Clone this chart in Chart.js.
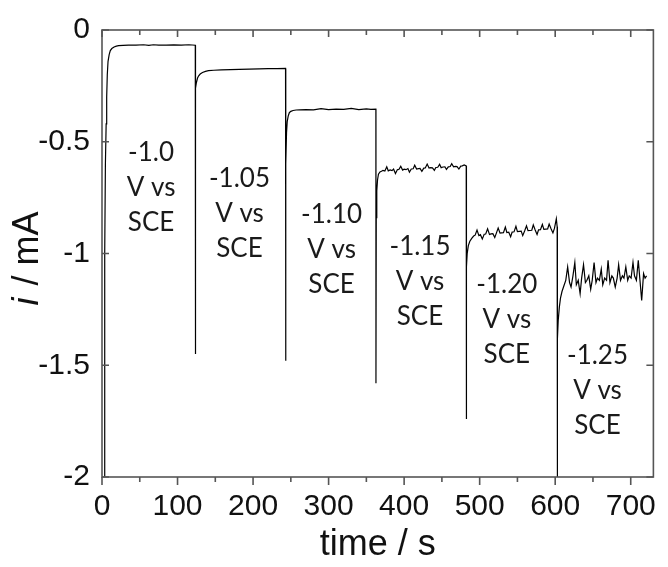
<!DOCTYPE html>
<html>
<head>
<meta charset="utf-8">
<title>Chronoamperometry steps</title>
<script src="https://cdn.jsdelivr.net/npm/chart.js@4.4.1/dist/chart.umd.min.js"></script>
<style>
    html, body { margin: 0; padding: 0; background: #fff; }
    #wrap { width: 668px; height: 567px; }
</style>
</head>
<body>
<div id="wrap"><canvas id="chart" width="668" height="567"></canvas></div>
<script>
// potential steps (V vs SCE), one block of time / current per step
const stepLabels = ['-1.0', '-1.05', '-1.10', '-1.15', '-1.20', '-1.25'];

const step1Time = [3, 3.6, 4.5, 5.5, 6.2, 7, 8, 9.5, 11, 13, 16, 19, 22, 28, 35, 45, 55, 62, 68, 75, 85, 95, 105, 115, 123.5];
const step1Current = [-2.05, -1.0, -0.6, -0.42, -0.3, -0.2, -0.14, -0.11, -0.092, -0.083, -0.076, -0.072, -0.070, -0.069, -0.068, -0.068, -0.066, -0.069, -0.066, -0.068, -0.068, -0.067, -0.068, -0.066, -0.068];

const step2Time = [123.6, 124, 125, 126.5, 128, 130, 133, 137, 141, 148, 158, 170, 182, 195, 208, 220, 232, 243];
const step2Current = [-1.45, -0.26, -0.235, -0.215, -0.205, -0.197, -0.190, -0.185, -0.182, -0.180, -0.178, -0.177, -0.176, -0.175, -0.174, -0.173, -0.173, -0.172];

const step3Time = [243.1, 243.5, 244.3, 245.2, 246.5, 248, 250, 253, 257, 262, 270, 280, 290, 300, 310, 320, 330, 340, 350, 356, 362.6];
const step3Current = [-1.48, -0.60, -0.46, -0.41, -0.385, -0.37, -0.364, -0.360, -0.358, -0.357, -0.356, -0.357, -0.352, -0.356, -0.354, -0.355, -0.351, -0.356, -0.353, -0.355, -0.354];

const step4Time = [362.7, 363.1, 363.8, 364.8, 366, 368,
    370, 372, 374.5, 377, 379, 381.5, 384, 386, 388.5, 391, 393, 395.5, 398, 400, 402.5, 405, 407, 409.5, 412, 414,
    416.5, 419, 421, 423.5, 426, 428, 430.5, 433, 435, 437.5, 440, 442, 444.5, 447, 449, 451.5, 454, 456, 458.5, 461,
    463, 465.5, 468, 470, 472.5, 475, 477, 479.5, 482.2];
const step4Current = [-1.58, -0.84, -0.72, -0.67, -0.645, -0.635,
    -0.632, -0.628, -0.631, -0.612, -0.630, -0.626, -0.629, -0.622, -0.642, -0.625, -0.624, -0.610, -0.627, -0.623, -0.625, -0.620, -0.636, -0.622, -0.621, -0.605,
    -0.622, -0.620, -0.619, -0.632, -0.618, -0.617, -0.600, -0.618, -0.616, -0.617, -0.628, -0.615, -0.614, -0.601, -0.616, -0.613, -0.612, -0.624, -0.612, -0.611,
    -0.598, -0.612, -0.610, -0.611, -0.622, -0.609, -0.608, -0.604, -0.608];

const step5Time = [482.3, 482.7, 483.5, 485, 487, 489.5,
    492, 494, 496.5, 499, 501, 503.5, 506, 508, 510.5, 513, 515, 517.5, 520, 522, 524.5, 527, 529, 531.5, 534, 536,
    538.5, 541, 543, 545.5, 548, 550, 552.5, 555, 557, 559.5, 562, 564, 566.5, 569, 571, 573.5, 576, 578, 580.5, 583,
    585, 587.5, 590, 592, 594.5, 597, 599, 600.5, 601.5, 602.6];
const step5Current = [-1.74, -1.06, -1.00, -0.965, -0.945, -0.932,
    -0.922, -0.918, -0.895, -0.920, -0.916, -0.935, -0.914, -0.913, -0.890, -0.915, -0.912, -0.911, -0.928, -0.910, -0.886, -0.909, -0.908, -0.907, -0.882, -0.906,
    -0.905, -0.925, -0.904, -0.903, -0.878, -0.902, -0.901, -0.900, -0.920, -0.899, -0.876, -0.898, -0.897, -0.896, -0.872, -0.895, -0.915, -0.894, -0.893, -0.870,
    -0.892, -0.891, -0.890, -0.868, -0.889, -0.908, -0.888, -0.862, -0.845, -0.880];

const step6Time = [602.7, 603.2, 604, 605.5, 607, 609,
    612, 614, 616.5, 619, 621, 623.5, 626, 628, 630.5, 633, 635, 637.5, 640, 642, 644.5, 647, 649, 651.5, 654, 656,
    658.5, 661, 663, 665.5, 668, 670, 672.5, 675, 677, 679.5, 682, 684, 686.5, 689, 691, 693.5, 696, 698, 700.5, 703,
    705, 707.5, 710, 712, 714.5, 717, 719, 721];
const step6Current = [-2.05, -1.38, -1.30, -1.24, -1.20, -1.17,
    -1.14, -1.12, -1.06, -1.13, -1.15, -1.10, -1.04, -1.14, -1.12, -1.18, -1.11, -1.05, -1.13, -1.12, -1.10, -1.16, -1.12, -1.04, -1.13, -1.11,
    -1.12, -1.07, -1.14, -1.11, -1.12, -1.03, -1.13, -1.10, -1.11, -1.15, -1.11, -1.05, -1.12, -1.10, -1.11, -1.06, -1.12, -1.10, -1.11, -1.04,
    -1.10, -1.12, -1.03, -1.11, -1.21, -1.09, -1.11, -1.10];

// axis ticks
const xTickValues = [0, 100, 200, 300, 400, 500, 600, 700];
const xMinorValues = [50, 150, 250, 350, 450, 550, 650];
const yTickValues = [0, -0.5, -1, -1.5, -2];
const yTickLabels = ['0', '-0.5', '-1', '-1.5', '-2'];

// anchor (time, current) of each step label
const labelAnchors = [[65, -0.547], [182, -0.667], [304, -0.827], [421, -0.969], [536, -1.138], [656, -1.458]];

const steps = [
    [step1Time, step1Current], [step2Time, step2Current], [step3Time, step3Current],
    [step4Time, step4Current], [step5Time, step5Current], [step6Time, step6Current]
];
const points = [];
steps.forEach(([t, c]) => t.forEach((v, k) => points.push({ x: v, y: c[k] })));

const axisFont = '"Liberation Sans", Arial, sans-serif';

// frame + inward/outward ticks like the original plot
const frameTicks = {
    id: 'frameTicks',
    afterDraw(chart) {
        const { ctx, chartArea: a, scales: { x, y } } = chart;
        ctx.save();
        ctx.strokeStyle = '#555';
        ctx.lineWidth = 1.6;
        ctx.strokeRect(a.left, a.top, a.right - a.left, a.bottom - a.top);
        ctx.beginPath();
        xTickValues.forEach(v => {
            const px = x.getPixelForValue(v);
            ctx.moveTo(px, a.bottom); ctx.lineTo(px, a.bottom + 8);
            ctx.moveTo(px, a.top); ctx.lineTo(px, a.top + 7);
        });
        xMinorValues.forEach(v => {
            const px = x.getPixelForValue(v);
            ctx.moveTo(px, a.bottom); ctx.lineTo(px, a.bottom + 5);
            ctx.moveTo(px, a.top); ctx.lineTo(px, a.top + 5);
        });
        yTickValues.forEach(v => {
            const py = y.getPixelForValue(v);
            ctx.moveTo(a.left, py); ctx.lineTo(a.left + 7, py);
            ctx.moveTo(a.right, py); ctx.lineTo(a.right - 7, py);
        });
        ctx.stroke();
        ctx.restore();
    }
};

// step potential labels and the y title (italic i)
const textLayer = {
    id: 'textLayer',
    afterDraw(chart) {
        const { ctx, chartArea: a, scales: { x, y } } = chart;
        ctx.save();
        ctx.fillStyle = '#1a1a1a';
        ctx.font = '26px Lato, "Open Sans", sans-serif';
        ctx.textAlign = 'center';
        ctx.textBaseline = 'middle';
        stepLabels.forEach((lab, k) => {
            const px = x.getPixelForValue(labelAnchors[k][0]);
            const py = y.getPixelForValue(labelAnchors[k][1]);
            [lab, 'V vs', 'SCE'].forEach((line, j) => ctx.fillText(line, px, py + j * 35));
        });

        // y axis title
        const cy = (a.top + a.bottom) / 2 + 6;
        ctx.translate(38, cy);
        ctx.rotate(-Math.PI / 2);
        ctx.fillStyle = '#111';
        ctx.textAlign = 'left';
        ctx.textBaseline = 'alphabetic';
        const italic = 'italic 36px ' + axisFont;
        const normal = '36px ' + axisFont;
        ctx.font = italic;
        const w1 = ctx.measureText('i').width;
        ctx.font = normal;
        const w2 = ctx.measureText(' / mA').width;
        const start = -(w1 + w2) / 2;
        ctx.font = italic;
        ctx.fillText('i', start, 0);
        ctx.font = normal;
        ctx.fillText(' / mA', start + w1 + 2, 0);
        ctx.restore();
    }
};

new Chart(document.getElementById('chart'), {
    type: 'line',
    data: {
        datasets: [{
            data: points,
            borderColor: '#000',
            borderWidth: 1.2,
            pointRadius: 0,
            tension: 0,
            fill: false
        }]
    },
    options: {
        responsive: false,
        animation: false,
        devicePixelRatio: 1,
        layout: { autoPadding: false, padding: { top: 27, right: 6, left: 0, bottom: 0 } },
        plugins: { legend: { display: false }, tooltip: { enabled: false } },
        scales: {
            x: {
                type: 'linear',
                min: 0,
                max: 730,
                afterBuildTicks: (axis) => { axis.ticks = xTickValues.map(v => ({ value: v })); },
                afterFit: (axis) => { axis.height = 90; },
                grid: { display: false, drawTicks: false },
                border: { display: false },
                ticks: {
                    autoSkip: false,
                    maxRotation: 0,
                    padding: 12,
                    color: '#111',
                    font: { family: axisFont, size: 30 }
                },
                title: {
                    display: true,
                    text: 'time / s',
                    color: '#111',
                    padding: { top: 0, bottom: 0 },
                    font: { family: axisFont, size: 36 }
                }
            },
            y: {
                min: -2,
                max: 0,
                afterBuildTicks: (axis) => { axis.ticks = yTickValues.map(v => ({ value: v })); },
                afterFit: (axis) => { axis.width = 102; },
                grid: { display: false, drawTicks: false },
                border: { display: false },
                ticks: {
                    padding: 12,
                    color: '#111',
                    font: { family: axisFont, size: 30 },
                    callback: (v) => yTickLabels[yTickValues.indexOf(v)] ?? ''
                }
            }
        }
    },
    plugins: [frameTicks, textLayer]
});
</script>
</body>
</html>
